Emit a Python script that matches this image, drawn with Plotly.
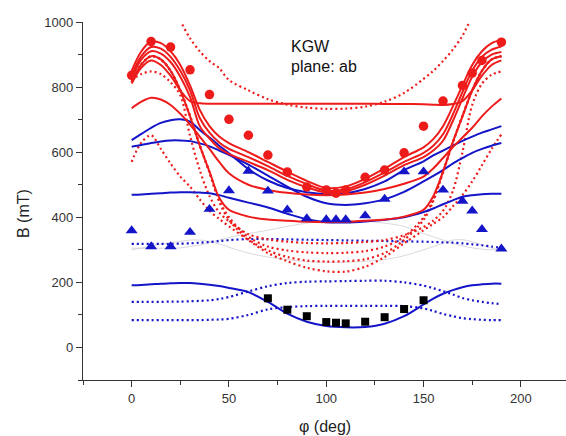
import plotly.graph_objects as go

# ---------------- data ----------------
phi = [0, 5, 10, 15, 20, 25, 30, 35, 40, 45, 50, 60, 70, 80, 90, 100, 110, 120,
       130, 140, 150, 155, 160, 165, 170, 175, 180, 185, 190]

# red solid theory curves
red_s1 = [850, 910, 940, 935, 910, 868, 805, 730, 680, 648, 628, 600, 570, 540, 512, 490, 495, 518, 550, 585, 615, 640, 680, 740, 805, 868, 910, 935, 945]
red_s2 = [836, 895, 923, 918, 893, 850, 790, 705, 660, 630, 610, 585, 557, 527, 502, 482, 486, 508, 538, 570, 598, 620, 655, 715, 785, 850, 893, 915, 925]
red_s3 = [826, 885, 910, 903, 877, 832, 770, 680, 642, 612, 595, 570, 545, 515, 492, 476, 480, 500, 528, 560, 585, 605, 635, 695, 765, 832, 877, 900, 908]
red_s4 = [811, 860, 882, 868, 835, 790, 757, 750, 749, 749, 749, 749, 749, 749, 749, 749, 749, 749, 748, 748, 747, 746, 745, 748, 757, 790, 835, 868, 882]
red_s5 = [735, 755, 767, 762, 745, 718, 685, 648, 610, 570, 535, 500, 484, 475, 470, 468, 470, 476, 487, 503, 525, 550, 582, 615, 645, 675, 710, 740, 765]
red_s6 = [816, 870, 895, 885, 850, 790, 710, 620, 540, 460, 423, 402, 393, 389, 386, 385, 386, 389, 393, 402, 423, 465, 540, 630, 710, 790, 850, 885, 895]

# red dotted theory curves
phi_u = [15, 20, 25, 30, 35, 40, 45, 50, 60, 70, 80, 90, 100, 110, 120, 130, 140, 150, 155, 160, 165, 170, 175, 180, 185]
red_d1 = [1180, 1080, 1005, 950, 910, 880, 858, 822, 790, 763, 746, 737, 733, 734, 740, 755, 782, 825, 850, 880, 915, 958, 1020, 1100, 1200]
red_d2 = [822, 840, 848, 840, 815, 775, 650, 545, 465, 415, 388, 348, 332, 325, 321, 320, 321, 324, 330, 345, 370, 390, 420, 480, 600, 745, 810, 838, 848]
red_d3 = [570, 630, 652, 610, 565, 525, 494, 455, 420, 395, 372, 330, 290, 265, 245, 234, 233, 248, 278, 320, 360, 380, 400, 433, 468, 510, 560, 610, 655]
red_d4 = [816, 870, 895, 885, 850, 790, 711, 621, 539, 452, 400, 340, 310, 298, 292, 290, 291, 296, 310, 340, 400, 455, 540, 630, 711, 790, 850, 885, 895]
red_d5 = [816, 870, 895, 885, 850, 790, 712, 622, 537, 448, 392, 332, 298, 278, 267, 264, 265, 271, 290, 330, 392, 450, 538, 628, 712, 790, 850, 885, 895]

# blue solid theory curves
blue_s1 = [637, 656, 675, 690, 698, 701, 694, 668, 645, 620, 597, 548, 513, 490, 477, 471, 474, 487, 510, 545, 572, 590, 605, 620, 635, 648, 660, 670, 680]
blue_s2 = [617, 622, 628, 633, 636, 636, 634, 627, 618, 605, 592, 562, 528, 494, 463, 443, 438, 443, 455, 478, 510, 527, 545, 565, 582, 598, 610, 620, 628]
blue_s3 = [469, 470, 472, 474, 476, 477, 477, 476, 474, 468, 460, 445, 430, 411, 394, 385, 384, 387, 392, 400, 416, 427, 440, 452, 463, 468, 471, 472, 472]
blue_s4 = [191, 192, 194, 196, 197, 198, 198, 196, 193, 189, 183, 170, 140, 104, 79, 66, 62, 63, 73, 96, 132, 150, 165, 176, 185, 191, 194, 196, 196]

# blue dotted theory curves
blue_d1 = [318, 318, 318, 318, 318, 319, 320, 322, 324, 327, 330, 333, 333, 332, 331, 330, 329, 328, 327, 326, 325, 324, 323, 322, 320, 317, 314, 310, 306]
blue_d2 = [140, 140, 140, 140, 141, 141, 142, 143, 145, 149, 155, 172, 188, 198, 202, 203, 204, 205, 205, 200, 190, 182, 173, 163, 152, 145, 140, 136, 133]
blue_d3 = [84, 84, 84, 84, 84, 84, 84, 84, 85, 86, 88, 100, 117, 124, 127, 128, 128, 128, 128, 127, 120, 112, 103, 96, 90, 87, 85, 84, 84]

# faint grey curves
grey_1 = [305, 305, 305, 305, 305, 306, 310, 315, 322, 330, 338, 350, 360, 372, 382, 388, 390, 388, 382, 372, 350, 340, 330, 320, 312, 306, 302, 300, 300]
grey_2 = [300, 305, 312, 318, 322, 326, 330, 330, 326, 318, 308, 290, 278, 270, 264, 262, 262, 265, 270, 282, 300, 310, 320, 330, 331, 325, 315, 305, 300]

# measured points
phi_circ = [0, 10, 20, 30, 40, 50, 60, 70, 80, 90, 100, 105, 110, 120, 130, 140, 150, 160, 170, 175, 180, 190]
b_circ = [836, 940, 923, 853, 777, 701, 652, 591, 539, 493, 484, 474, 484, 523, 545, 598, 680, 757, 805, 843, 882, 938]

phi_tri = [0, 10, 20, 30, 40, 50, 60, 70, 80, 90, 100, 105, 110, 120, 130, 140, 150, 160, 170, 175, 180, 190]
b_tri = [359, 310, 310, 354, 425, 482, 542, 481, 423, 396, 393, 393, 393, 405, 456, 540, 540, 484, 450, 420, 363, 303]

phi_sq = [70, 80, 90, 100, 105, 110, 120, 130, 140, 150]
b_sq = [151, 116, 96, 78, 76, 74, 79, 93, 118, 145]

# ---------------- styles ----------------
RED = "#EE1B1B"
BLUE = "#1414C8"
GREY = "rgba(200,200,210,0.7)"
FONT = "Arial, 'Liberation Sans', sans-serif"

fig = go.Figure()

def line(x, y, color, dash=None, width=2.0):
    fig.add_trace(go.Scatter(
        x=x, y=y, mode="lines",
        line=dict(color=color, width=width, dash=dash or "solid", shape="spline", smoothing=0.9),
        hoverinfo="skip", showlegend=False))

DOT = "2px,3px"

for g in (grey_1, grey_2):
    line(phi, g, GREY, width=1.0)
for d in (blue_d1, blue_d2, blue_d3):
    line(phi, d, BLUE, DOT, 2.2)
line(phi_u, red_d1, RED, DOT, 2.2)
for d in (red_d2, red_d3, red_d4, red_d5):
    line(phi, d, RED, DOT, 2.2)
for s in (blue_s1, blue_s2, blue_s3, blue_s4):
    line(phi, s, BLUE)
for s in (red_s1, red_s2, red_s3, red_s4, red_s5, red_s6):
    line(phi, s, RED)

fig.add_trace(go.Scatter(x=phi_circ, y=b_circ, mode="markers",
                         marker=dict(symbol="circle", size=9.5, color=RED),
                         showlegend=False, hoverinfo="skip"))
fig.add_trace(go.Scatter(x=phi_tri, y=b_tri, mode="markers",
                         marker=dict(symbol="triangle-up", size=10.5, color=BLUE),
                         showlegend=False, hoverinfo="skip"))
fig.add_trace(go.Scatter(x=phi_sq, y=b_sq, mode="markers",
                         marker=dict(symbol="square", size=8, color="black"),
                         showlegend=False, hoverinfo="skip"))

fig.add_annotation(x=81, y=925, xref="x", yref="y", text="KGW", showarrow=False,
                   xanchor="left", yanchor="middle", font=dict(family=FONT, size=16, color="#111"))
fig.add_annotation(x=81, y=862, xref="x", yref="y", text="plane: ab", showarrow=False,
                   xanchor="left", yanchor="middle", font=dict(family=FONT, size=16, color="#111"))

fig.add_annotation(x=-0.122, y=0.4637, xref="paper", yref="paper", text="B (mT)", textangle=-90,
                   showarrow=False, xanchor="center", yanchor="middle",
                   font=dict(family=FONT, size=16, color="#222"))
fig.add_annotation(x=0.502, y=-0.131, xref="paper", yref="paper", text="φ (deg)",
                   showarrow=False, xanchor="center", yanchor="middle",
                   font=dict(family=FONT, size=16, color="#222"))

axis_common = dict(showgrid=False, zeroline=False, showline=True, linecolor="#333",
                   linewidth=1.4, ticks="outside", ticklen=6, tickwidth=1.3, tickcolor="#333",
                   tickfont=dict(family=FONT, size=13, color="#333"))

fig.update_xaxes(range=[-25, 223.2], tick0=0, dtick=50,
                 minor=dict(ticks="outside", ticklen=4, tickwidth=1.3, tickcolor="#333", dtick=25, tick0=-25),
                 **axis_common)
fig.update_yaxes(range=[-100, 1000], tick0=0, dtick=200,
                 minor=dict(ticks="outside", ticklen=4, tickwidth=1.3, tickcolor="#333", dtick=100, tick0=-100),
                 **axis_common)

fig.update_layout(width=566, height=436, margin=dict(l=83, r=0, t=22, b=56),
                  paper_bgcolor="white", plot_bgcolor="white",
                  font=dict(family=FONT))

fig.write_html("out.html")
